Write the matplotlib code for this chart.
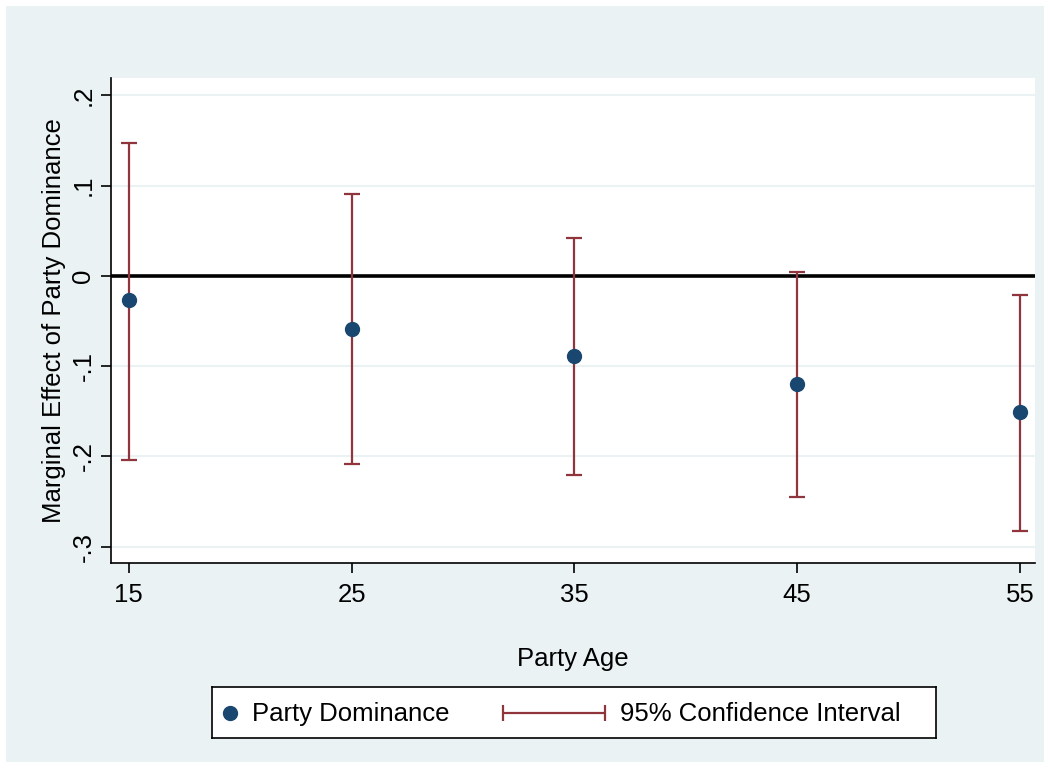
import matplotlib.pyplot as plt
from matplotlib.patches import Rectangle

plt.rcParams['font.family'] = ['Liberation Sans', 'DejaVu Sans']

# Data
party_age = [15, 25, 35, 45, 55]
effect = [-0.027, -0.059, -0.089, -0.120, -0.151]
ci_low = [-0.204, -0.208, -0.221, -0.245, -0.282]
ci_high = [0.147, 0.091, 0.042, 0.004, -0.021]
y_ticks = [0.2, 0.1, 0, -0.1, -0.2, -0.3]
y_tick_labels = ['.2', '.1', '0', '-.1', '-.2', '-.3']

bg = '#EAF2F3'
navy = '#1A476F'
maroon = '#90353B'
fs = 18.5

fig = plt.figure(figsize=(10.5, 7.68), dpi=100, facecolor='white')
fig.add_artist(Rectangle((6 / 1050, 6 / 768), 1 - 12 / 1050, 1 - 12 / 768,
                         transform=fig.transFigure, facecolor=bg,
                         edgecolor='none', zorder=-10))

ax = fig.add_axes([0.1057, 0.2669, 0.88, 0.6315])
ax.set_facecolor('white')

lower_err = [e - l for e, l in zip(effect, ci_low)]
upper_err = [h - e for e, h in zip(effect, ci_high)]
ax.errorbar(party_age, effect, yerr=[lower_err, upper_err], fmt='none',
            ecolor=maroon, elinewidth=1.6, capsize=5.5, capthick=1.6, zorder=3)
ax.plot(party_age, effect, 'o', color=navy, markersize=10, zorder=4)
ax.axhline(0, color='black', linewidth=2.6, zorder=2)

ax.set_xlim(14.2, 55.67)
ax.set_ylim(-0.318, 0.219)
ax.set_xticks(party_age)
ax.set_yticks(y_ticks)
ax.set_yticklabels(y_tick_labels, rotation=90, va='center')
ax.yaxis.grid(True, color=bg, linewidth=1.5, zorder=0)
ax.set_axisbelow(True)

for s in ['top', 'right']:
    ax.spines[s].set_visible(False)
for s in ['left', 'bottom']:
    ax.spines[s].set_linewidth(1.2)

ax.tick_params(axis='both', direction='out', length=7.2, width=1.2,
               labelsize=fs, colors='black')
ax.tick_params(axis='x', pad=6.9)
ax.tick_params(axis='y', pad=4.0)

ax.set_xlabel('Party Age', fontsize=fs, labelpad=29.4)
ax.set_ylabel('Marginal Effect of Party Dominance', fontsize=fs, labelpad=4.2)

# Legend box below the plot
lax = fig.add_axes([0.2019, 0.039, 0.6895, 0.0664])
lax.set_xlim(0, 1)
lax.set_ylim(0, 1)
lax.set_xticks([])
lax.set_yticks([])
for s in lax.spines.values():
    s.set_linewidth(1.2)
lax.plot([0.025], [0.5], 'o', color=navy, markersize=10)
lax.text(0.055, 0.47, 'Party Dominance', fontsize=fs, va='center', ha='left')
lax.errorbar([0.4725], [0.5], xerr=[[0.0705], [0.0705]], fmt='none',
             ecolor=maroon, elinewidth=1.6, capsize=5.5, capthick=1.6)
lax.text(0.5635, 0.47, '95% Confidence Interval', fontsize=fs, va='center', ha='left')

fig.savefig('out.png', dpi=100, facecolor=fig.get_facecolor())
